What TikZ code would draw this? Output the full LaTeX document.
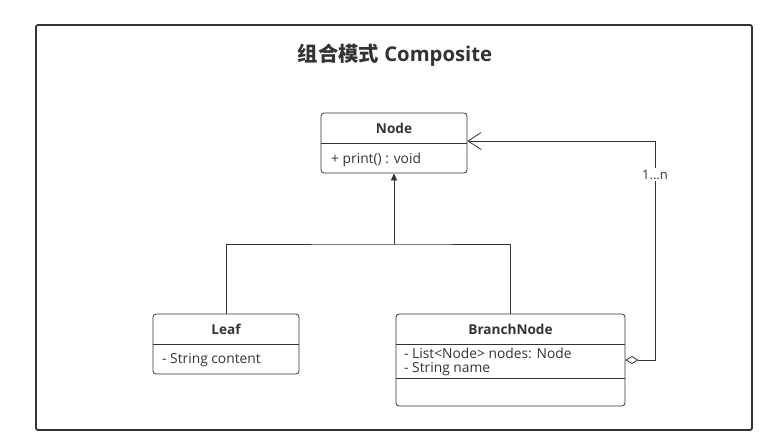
\documentclass[tikz,border=0pt]{standalone}
\usepackage{fontspec}
\setmainfont{Open Sans}
\newfontfamily\cjkfont{Noto Sans CJK SC}
\usetikzlibrary{arrows.meta}
\definecolor{ink}{HTML}{333333}
\begin{document}
\begin{tikzpicture}[x=1pt,y=-1pt,
  umlbox/.style={draw=ink,line width=0.8pt,rounded corners=3pt,rectangle,inner sep=0pt,fill=white},
  cls/.style={font=\bfseries\fontsize{13.6}{16}\selectfont,text=ink,inner sep=0pt},
  attr/.style={font=\fontsize{13.8}{16}\selectfont,text=ink,inner sep=0pt,anchor=west},
  conn/.style={draw=ink,line width=0.8pt}]
\useasboundingbox (0,0) rectangle (762,439);
\node[draw=ink,line width=1.8pt,rounded corners=2pt,minimum width=716pt,minimum height=405pt,inner sep=0pt] (frame) at (394,227.5) {};
\node[font=\bfseries\fontsize{20.3}{24}\selectfont,text=ink,inner sep=0pt] (title) at (395,55) {{\cjkfont\bfseries 组合模式} Composite};
% Node class
\node[umlbox,minimum width=146pt,minimum height=60pt] (node) at (394,143) {};
\draw[conn] (node.west) -- (node.east);
\node[cls] (nodet) at (394,128.5) {Node};
\node[attr] (nodea) at (331,160) {+ print() : void};
% Leaf class
\node[umlbox,minimum width=146pt,minimum height=60pt] (leaf) at (226,344) {};
\draw[conn] (leaf.west) -- (leaf.east);
\node[cls] (leaft) at (226,329.5) {Leaf};
\node[attr] (leafa) at (162,360) {- String content};
% BranchNode class
\node[umlbox,minimum width=229pt,minimum height=92pt] (branch) at (510.5,360) {};
\coordinate (bd1) at (396,344);
\coordinate (bd2) at (396,378);
\draw[conn] (bd1) -- (bd1 -| branch.east);
\draw[conn] (bd2) -- (bd2 -| branch.east);
\node[cls] (brancht) at (510.5,329.5) {BranchNode};
\node[attr] (brancha) at (404,353.5) {- List<Node> nodes: Node};
\node[attr] (branchb) at (404,369.5) {- String name};
% inheritance
\coordinate (junc) at (394,244);
\draw[conn] (leaf.north) |- (junc) -| (branch.north);
\draw[conn,-{Triangle[length=7pt,width=6pt]}] (junc) -- (node.south);
% aggregation
\coordinate (aggr) at (655,360);
\coordinate (nodeE) at ([yshift=2pt]node.east);
\draw[conn,{Diamond[open,length=13pt,width=8pt]}-{Straight Barb[length=13pt,width=17pt,line width=0.8pt]}] (branch.east) -- (aggr) |- (nodeE);
\node[fill=white,font=\fontsize{13}{15}\selectfont,text=ink,inner sep=1.5pt] (mult) at (655,174.5) {1...n};
\end{tikzpicture}
\end{document}
